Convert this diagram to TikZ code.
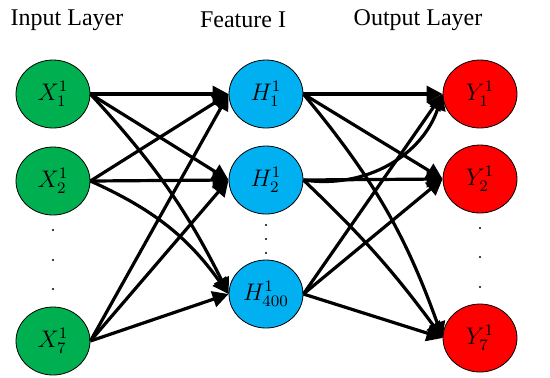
\documentclass[tikz,border=0pt]{standalone}
\usepackage{fontspec}
\setmainfont{Liberation Serif}
\usepackage{amsmath}
\usetikzlibrary{arrows.meta, shapes.geometric}

\definecolor{ingreen}{RGB}{0,176,80}
\definecolor{hidblue}{RGB}{0,176,240}
\definecolor{outred}{RGB}{255,0,0}

\tikzset{
    neuron/.style={draw=black, thin, ellipse, minimum width=37pt, minimum height=34pt, inner sep=0pt, font=\large},
    conn/.style={line width=1.6pt, -{Triangle[length=8pt,width=8pt]}},
    layertitle/.style={font=\fontsize{12}{14}\selectfont}
}

\begin{document}
\begin{tikzpicture}[x=0.5pt, y=-0.5pt]
    \useasboundingbox (0,0) rectangle (550,377);

    % Layer titles
    \node[layertitle] (tin) at (67,20) {Input Layer};
    \node[layertitle] (thid) at (243,20) {Feature I};
    \node[layertitle] (tout) at (418,20) {Output Layer};

    % Input layer
    \node[neuron, fill=ingreen] (x1) at (53,94) {$X_1^1$};
    \node[neuron, fill=ingreen] (x2) at (53,181) {$X_2^1$};
    \node[neuron, fill=ingreen] (x7) at (53,341) {$X_7^1$};

    % Feature layer
    \node[neuron, fill=hidblue] (h1) at (266,94) {$H_1^1$};
    \node[neuron, fill=hidblue] (h2) at (266,180) {$H_2^1$};
    \node[neuron, fill=hidblue] (h400) at (266,294) {$H_{400}^1$};

    % Output layer
    \node[neuron, fill=outred] (y1) at (480,94) {$Y_1^1$};
    \node[neuron, fill=outred] (y2) at (480,179) {$Y_2^1$};
    \node[neuron, fill=outred] (y7) at (480,338) {$Y_7^1$};

    % Dots
    \foreach \yy in {230,260,289} \fill (53,\yy) circle (1.1);
    \foreach \yy in {225,239,253} \fill (266,\yy) circle (1.1);
    \foreach \yy in {228,257,287} \fill (480,\yy) circle (1.1);

    % Input -> feature
    \foreach \s in {x1,x2,x7}
        \foreach \t in {h1,h2}
            \draw[conn] (\s.east) -- (\t.west);
    \draw[conn] (x1.east) to[bend left=8] (h400.west);
    \draw[conn] (x2.east) to[bend left=15] (h400.west);
    \draw[conn] (x7.east) -- (h400.west);

    % Feature -> output
    \foreach \s in {h400}
        \foreach \t in {y1,y2,y7}
            \draw[conn] (\s.east) -- (\t.west);
    \draw[conn] (h1.east) -- (y1.west);
    \draw[conn] (h1.east) -- (y2.west);
    \draw[conn] (h1.east) to[bend left=10] (y7.west);
    \draw[conn] (h2.east) to[bend right=40] (y1.west);
    \draw[conn] (h2.east) -- (y2.west);
    \draw[conn] (h2.east) to[bend left=5] (y7.west);
\end{tikzpicture}
\end{document}
